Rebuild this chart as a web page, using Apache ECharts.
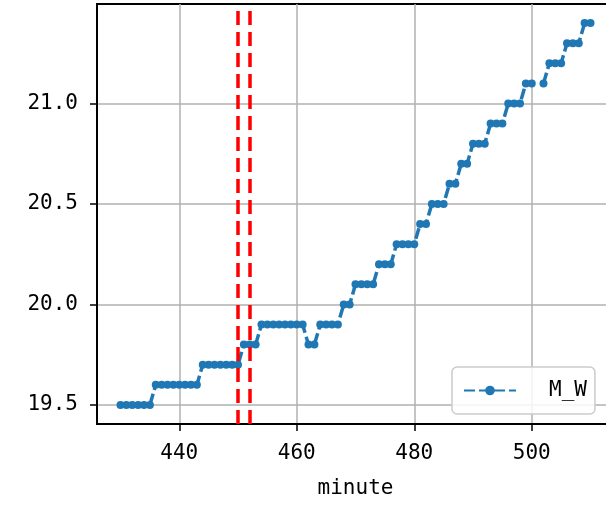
<!DOCTYPE html>
<html>
<head>
<meta charset="utf-8">
<script src="https://cdn.jsdelivr.net/npm/echarts@6/dist/echarts.min.js"></script>
<style>
html,body{margin:0;padding:0;background:#fff;}
#chart{width:606px;height:506px;}
</style>
</head>
<body>
<div id="chart"></div>
<script>
// Data
const minutes = [];
for (let m = 430; m <= 510; m++) minutes.push(m);
const mwValues = [
  19.5,19.5,19.5,19.5,19.5,19.5,
  19.6,19.6,19.6,19.6,19.6,19.6,19.6,19.6,
  19.7,19.7,19.7,19.7,19.7,19.7,19.7,
  19.8,19.8,19.8,
  19.9,19.9,19.9,19.9,19.9,19.9,19.9,19.9,
  19.8,19.8,
  19.9,19.9,19.9,19.9,
  20.0,20.0,
  20.1,20.1,20.1,20.1,
  20.2,20.2,20.2,
  20.3,20.3,20.3,20.3,
  20.4,20.4,
  20.5,20.5,20.5,
  20.6,20.6,
  20.7,20.7,
  20.8,20.8,20.8,
  20.9,20.9,20.9,
  21.0,21.0,21.0,
  21.1,21.1,
  null,
  21.1,
  21.2,21.2,21.2,
  21.3,21.3,21.3,
  21.4,21.4
];
const xTicks = [440, 460, 480, 500];
const yTicks = [19.5, 20.0, 20.5, 21.0];
const markerLines = [450, 452];
const seriesName = 'M_W';
const xLabel = 'minute';

const points = minutes.map((m, i) => [m, mwValues[i]]);

const FONT = 'DejaVu Sans Mono';
const chart = echarts.init(document.getElementById('chart'), null, {renderer: 'canvas'});
chart.setOption({
  animation: false,
  backgroundColor: '#ffffff',
  grid: {left: 97, top: 4, width: 517, height: 420, show: true,
         outerBoundsMode: 'none', containLabel: false,
         borderColor: '#000', borderWidth: 2, backgroundColor: 'transparent'},
  xAxis: {
    type: 'value', min: 426, max: 514,
    name: xLabel, nameLocation: 'middle', nameGap: 54,
    nameTextStyle: {fontFamily: FONT, fontSize: 21, color: '#000'},
    axisLine: {show: true, onZero: false, lineStyle: {color: '#000', width: 2}},
    axisTick: {show: true, customValues: xTicks, length: 7, lineStyle: {color: '#000', width: 1.5}},
    axisLabel: {customValues: xTicks, margin: 19, fontFamily: FONT, fontSize: 21, color: '#000'},
    splitLine: {show: true, lineStyle: {color: '#b0b0b0', width: 1.5}}
  },
  yAxis: {
    type: 'value', min: 19.405, max: 21.495,
    axisLine: {show: true, onZero: false, lineStyle: {color: '#000', width: 2}},
    axisTick: {show: true, customValues: yTicks, length: 7, lineStyle: {color: '#000', width: 1.5}},
    axisLabel: {customValues: yTicks, margin: 19, fontFamily: FONT, fontSize: 21, color: '#000',
      formatter: v => Number(v).toFixed(1)},
    splitLine: {show: true, lineStyle: {color: '#b0b0b0', width: 1.5}}
  },
  legend: {
    data: [seriesName],
    left: 452, top: 367,
    padding: [13, 8, 13, 11],
    itemWidth: 52, itemHeight: 12, itemGap: 5,
    backgroundColor: 'rgba(255,255,255,0.85)',
    borderColor: '#cccccc', borderWidth: 1.5, borderRadius: 5,
    textStyle: {fontFamily: FONT, fontSize: 21, color: '#000', padding: [0, 0, 0, 28]}
  },
  series: [
    {
      name: seriesName, type: 'line', data: points,
      connectNulls: false,
      symbol: 'circle', symbolSize: 8, showSymbol: true,
      itemStyle: {color: '#1f77b4'},
      lineStyle: {color: '#1f77b4', width: 3.5, type: [11, 4]},
      z: 3
    },
    {
      name: 'vlines', type: 'line', data: [],
      markLine: {
        silent: true, symbol: ['none', 'none'],
        label: {show: false},
        lineStyle: {color: '#ff0000', width: 3.5, type: [14, 7]},
        data: markerLines.map(v => ({xAxis: v}))
      },
      z: 4
    }
  ]
});
</script>
</body>
</html>
